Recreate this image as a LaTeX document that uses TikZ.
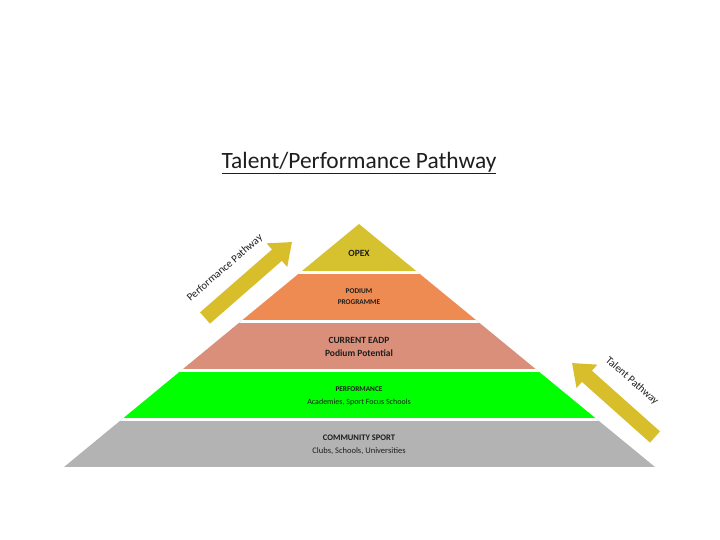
\documentclass[tikz,border=0pt]{standalone}
\usepackage{fontspec}
\setmainfont{Carlito}
\usetikzlibrary{arrows.meta}
\definecolor{opexc}{HTML}{D6C22F}
\definecolor{podc}{HTML}{EE8B52}
\definecolor{eadpc}{HTML}{DA8F7B}
\definecolor{perfc}{HTML}{00FF00}
\definecolor{commc}{HTML}{B3B3B3}
\definecolor{arrc}{HTML}{D9BE2C}
\definecolor{txtc}{HTML}{1E1E1E}
\tikzset{
  lbl/.style={inner sep=0pt, text=txtc, align=center},
  big/.style={lbl, font=\bfseries\fontsize{9.5}{10}\selectfont},
  small/.style={lbl, font=\bfseries\fontsize{7.3}{8}\selectfont},
  tiny/.style={lbl, font=\fontsize{8}{9}\selectfont},
  patharrow/.style={arrc, line width=15pt, -{Triangle[width=30pt,length=20pt]}},
  pathlbl/.style={lbl, font=\fontsize{10.8}{12}\selectfont}
}
\begin{document}
\begin{tikzpicture}[x=1pt,y=-1pt]
\useasboundingbox (0,0) rectangle (720,540);
\fill[white] (0,0) rectangle (720,540);
% pyramid
\begin{scope}
\clip (359,224) -- (655,467) -- (64,467) -- cycle;
\fill[opexc] (0,224) rectangle (720,272.5);
\fill[podc] (0,272.5) rectangle (720,321.5);
\fill[eadpc] (0,321.5) rectangle (720,370.5);
\fill[perfc] (0,370.5) rectangle (720,419.5);
\fill[commc] (0,419.5) rectangle (720,467);
\foreach \yy in {272.5,321.5,370.5,419.5} \draw[white, line width=2.5pt] (0,\yy) -- (720,\yy);
\end{scope}
% title
\node[lbl, font=\fontsize{23.4}{27}\selectfont] (title) at (359,163) {\underline{Talent/Performance Pathway}};
% layer labels
\node[big] (opex) at (359,253) {OPEX};
\node[small] (pod) at (359,296.5) {PODIUM\\[3pt]PROGRAMME};
\node[big] (eadp) at (359,347) {CURRENT EADP\\[3.5pt]Podium Potential};
\node[small] (perf) at (359,389.5) {PERFORMANCE};
\node[tiny] (perfsub) at (359,402) {Academies, Sport Focus Schools};
\node[lbl, font=\bfseries\fontsize{8.5}{9}\selectfont] (comm) at (359,438) {COMMUNITY SPORT};
\node[lbl, font=\fontsize{8.5}{9}\selectfont] (commsub) at (359,451) {Clubs, Schools, Universities};
% arrows
\coordinate (lt) at (205,318);
\coordinate (lh) at (292,242);
\coordinate (rt) at (655,437);
\coordinate (rh) at (572,363);
\draw[patharrow] (lt) -- (lh);
\draw[patharrow] (rt) -- (rh);
\node[pathlbl, rotate=41] (perfpath) at (225,268) {Performance Pathway};
\node[pathlbl, rotate=-41] (talpath) at (632,381) {Talent Pathway};
\end{tikzpicture}
\end{document}
